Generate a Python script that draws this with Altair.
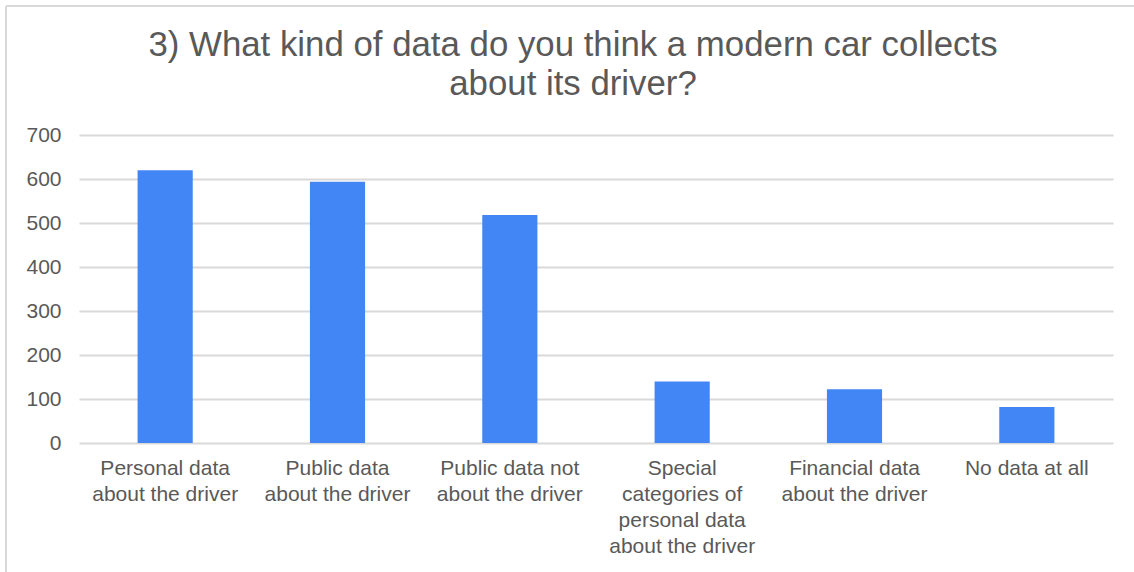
import altair as alt
import pandas as pd

# Survey answers and the number of respondents choosing each one
categories = [
    "Personal data\nabout the driver",
    "Public data\nabout the driver",
    "Public data not\nabout the driver",
    "Special\ncategories of\npersonal data\nabout the driver",
    "Financial data\nabout the driver",
    "No data at all",
]
counts = [620, 594, 518, 140, 122, 82]
y_ticks = [0, 100, 200, 300, 400, 500, 600, 700]

title_lines = [
    "3) What kind of data do you think a modern car collects",
    "about its driver?",
]

df = pd.DataFrame({"answer": categories, "count": counts})

FONT = "Liberation Sans"
TEXT = "#595959"
GRID = "#d9d9d9"

bars = alt.Chart(df).mark_bar(color="#4285F4").encode(
    x=alt.X(
        "answer:N",
        sort=None,
        title=None,
        scale=alt.Scale(paddingInner=0.68, paddingOuter=0.34),
        axis=alt.Axis(
            labelAngle=0,
            labelAlign="center",
            labelBaseline="top",
            labelExpr="split(datum.label, '\\n')",
            labelLineHeight=26,
            labelPadding=14,
            labelLimit=400,
            labelFontSize=21,
            labelFont=FONT,
            labelColor=TEXT,
            domain=False,
            ticks=False,
            grid=False,
        ),
    ),
    y=alt.Y(
        "count:Q",
        title=None,
        scale=alt.Scale(domain=[0, 700], nice=False),
        axis=alt.Axis(
            values=y_ticks,
            labelFontSize=21,
            labelFont=FONT,
            labelColor=TEXT,
            labelPadding=18,
            domain=False,
            ticks=False,
            grid=True,
            gridColor=GRID,
            gridWidth=2,
        ),
    ),
)

# Light frame along the left and top edges of the chart area
frame_left = alt.Chart(df).mark_rule(color=GRID, strokeWidth=2).encode(
    x=alt.value(-73), y=alt.value(-129), y2=alt.value(440)
)
frame_top = alt.Chart(df).mark_rule(color=GRID, strokeWidth=2).encode(
    x=alt.value(-73), x2=alt.value(1060), y=alt.value(-129)
)

# Two-line heading centred over the chart area
heading = alt.Chart(pd.DataFrame({"t": [0]})).mark_text(
    font=FONT,
    fontSize=34.8,
    color=TEXT,
    align="center",
    baseline="alphabetic",
    lineHeight=39,
).encode(
    x=alt.value(494),
    y=alt.value(-79),
    text=alt.value(title_lines),
)

chart = (
    alt.layer(frame_left, frame_top, bars, heading)
    .properties(
        width=1034,
        height=308,
        padding={"left": 79, "top": 135, "right": 21, "bottom": 129},
        autosize=alt.AutoSizeParams(type="none"),
        background="white",
    )
    .configure_view(stroke=None)
)

chart.save("out.html", embed_options={"renderer": "svg", "actions": False})
